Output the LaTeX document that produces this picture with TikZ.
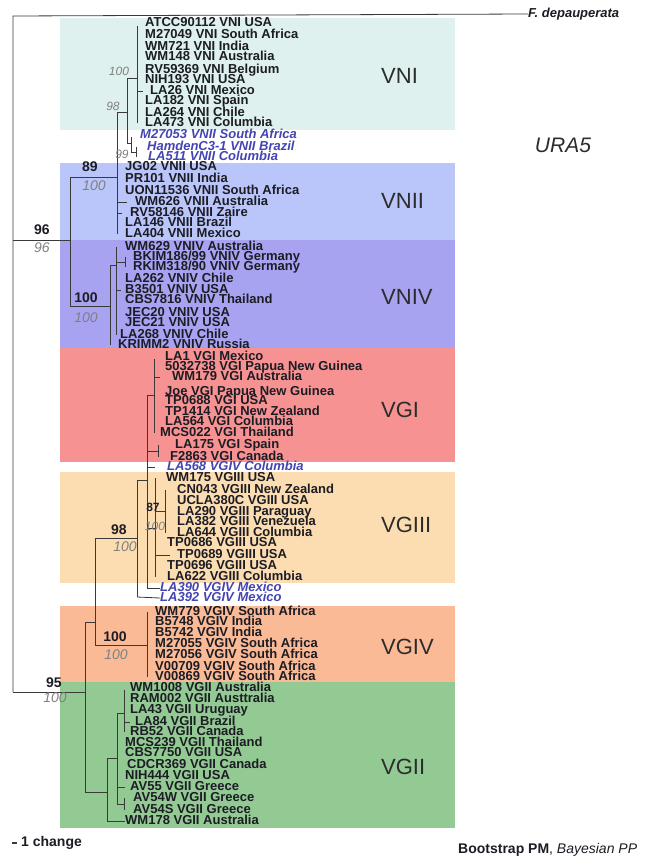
\documentclass[tikz,border=0pt]{standalone}
\usepackage{fontspec}
\setmainfont{Liberation Sans}
\definecolor{bandvni}{HTML}{DFF1EE}
\definecolor{bandvnii}{HTML}{BAC5F9}
\definecolor{bandvniv}{HTML}{A7A3F1}
\definecolor{bandvgi}{HTML}{F69292}
\definecolor{bandvgiii}{HTML}{FCDDB1}
\definecolor{bandvgiv}{HTML}{FBBA96}
\definecolor{bandvgii}{HTML}{93C993}
\definecolor{leafc}{HTML}{1C1C24}
\definecolor{oddc}{HTML}{4444B2}
\definecolor{ppc}{HTML}{808080}
\definecolor{branchc}{HTML}{3A3A3A}
\definecolor{cladec}{HTML}{2C2C2C}
\begin{document}
\begin{tikzpicture}[x=1pt,y=-1pt,
    br/.style={draw=branchc,line width=0.8pt},
    leaf/.style={anchor=west,inner sep=0pt,text=leafc,font=\fontsize{13}{13}\selectfont\bfseries,text height=9pt,text depth=2.5pt},
    oddleaf/.style={leaf,text=oddc,font=\fontsize{13}{13}\selectfont\bfseries\itshape},
    bs/.style={inner sep=0pt,text=leafc,font=\fontsize{14}{14}\selectfont\bfseries},
    pp/.style={inner sep=0pt,text=ppc,font=\fontsize{14}{14}\selectfont\itshape},
    ppsmall/.style={inner sep=0pt,text=ppc,font=\fontsize{12}{12}\selectfont\itshape},
    bssmall/.style={inner sep=0pt,text=leafc,font=\fontsize{12}{12}\selectfont\bfseries},
    clade/.style={anchor=west,inner sep=0pt,text=cladec,font=\fontsize{22}{22}\selectfont}]
    \useasboundingbox (0,0) rectangle (658,862);
    \fill[white] (0,0) rectangle (658,862);
    % clade bands
    \fill[bandvni] (60,18) rectangle (455,130);
    \fill[bandvnii] (60,163) rectangle (455,240);
    \fill[bandvniv] (60,240) rectangle (455,348);
    \fill[bandvgi] (60,348) rectangle (455,462);
    \fill[bandvgiii] (60,472) rectangle (455,583);
    \fill[bandvgiv] (60,606) rectangle (455,682);
    \fill[bandvgii] (60,682) rectangle (455,828);
    \node[clade] (cvni) at (381,76) {VNI};
    \node[clade] (cvnii) at (381,201) {VNII};
    \node[clade] (cvniv) at (381,297) {VNIV};
    \node[clade] (cvgi) at (381,410) {VGI};
    \node[clade] (cvgiii) at (381,525) {VGIII};
    \node[clade] (cvgiv) at (381,647) {VGIV};
    \node[clade] (cvgii) at (381,767) {VGII};
    \node[inner sep=0pt,text=cladec,font=\fontsize{21}{21}\selectfont\itshape] (gene) at (563,145) {URA5};
    % outgroup and root
    \node[anchor=west,inner sep=0pt,text=leafc,font=\fontsize{13}{13}\selectfont\bfseries\itshape] (fdep) at (528,14) {F. depauperata};
    \draw[br] (13,692) -- (13,16) -- (fdep.west);
    % VN clade
    \draw[br] (13,240) -- (70,240);
    \draw[br] (70,177) -- (70,306);
    \draw[br] (70,177) -- (117,177);
    \draw[br] (117,112) -- (117,234);
    \draw[br] (117,112) -- (127,112);
    \draw[br] (127,78) -- (127,143);
    \draw[br] (127,78) -- (137,78);
    \draw[br] (137,26) -- (137,123);
    \node[leaf] (vni1) at (145,23) {ATCC90112 VNI USA};
    \node[leaf] (vni2) at (145,35) {M27049 VNI South Africa};
    \node[leaf] (vni3) at (145,47) {WM721 VNI India};
    \node[leaf] (vni4) at (145,57) {WM148 VNI Australia};
    \node[leaf] (vni5) at (145,70) {RV59369 VNI Belgium};
    \node[leaf] (vni6) at (145,80) {NIH193 VNI USA};
    \node[leaf] (vni7) at (150,91) {LA26 VNI Mexico};
    \node[leaf] (vni8) at (145,101) {LA182 VNI Spain};
    \node[leaf] (vni9) at (145,113) {LA264 VNI Chile};
    \node[leaf] (vni10) at (145,123) {LA473 VNI Columbia};
    \draw[br] (137,91) -- (143,91);
    \node[oddleaf] (vnx1) at (140,135) {M27053 VNII South Africa};
    \node[oddleaf] (vnx2) at (147,147) {HamdenC3-1 VNII Brazil};
    \node[oddleaf] (vnx3) at (148,157) {LA511 VNII Columbia};
    \draw[br] (127,143) -- (131,143);
    \draw[br] (131,137) -- (131,152);
    \draw[br] (131,152) -- (136,152);
    \draw[br] (136,147) -- (136,157);
    \node[ppsmall] (pvni) at (119,71) {100};
    \node[ppsmall] (pvn1) at (113,106) {98};
    \node[ppsmall] (pvn2) at (122,154) {99};
    \node[leaf] (vnii1) at (125,167) {JG02 VNII USA};
    \node[leaf] (vnii2) at (125,179) {PR101 VNII India};
    \node[leaf] (vnii3) at (125,191) {UON11536 VNII South Africa};
    \node[leaf] (vnii4) at (135,202) {WM626 VNII Australia};
    \node[leaf] (vnii5) at (130,213) {RV58146 VNII Zaire};
    \node[leaf] (vnii6) at (125,223) {LA146 VNII Brazil};
    \node[leaf] (vnii7) at (125,234) {LA404 VNII Mexico};
    \draw[br] (117,202) -- (127,202);
    \draw[br] (117,213) -- (122,213);
    \node[bs] (bvnii) at (90,167) {89};
    \node[pp] (pvnii) at (94,186) {100};
    \node[bs] (bvn) at (42,230) {96};
    \node[pp] (pvn) at (42,248) {96};
    \draw[br] (70,306) -- (110,306);
    \draw[br] (110,265) -- (110,345);
    \draw[br] (110,265) -- (116,265);
    \draw[br] (116,247) -- (116,335);
    \draw[br] (116,262) -- (125,262);
    \draw[br] (125,257) -- (125,267);
    \draw[br] (116,290) -- (121,290);
    \node[leaf] (vniv1) at (125,247) {WM629 VNIV Australia};
    \node[leaf] (vniv2) at (133,257) {BKIM186/99 VNIV Germany};
    \node[leaf] (vniv3) at (133,267) {RKIM318/90 VNIV Germany};
    \node[leaf] (vniv4) at (125,279) {LA262 VNIV Chile};
    \node[leaf] (vniv5) at (125,290) {B3501 VNIV USA};
    \node[leaf] (vniv6) at (125,300) {CBS7816 VNIV Thailand};
    \node[leaf] (vniv7) at (125,313) {JEC20 VNIV USA};
    \node[leaf] (vniv8) at (125,323) {JEC21 VNIV USA};
    \node[leaf] (vniv9) at (120,335) {LA268 VNIV Chile};
    \node[leaf] (vniv10) at (118,345) {KRIMM2 VNIV Russia};
    \node[bs] (bvniv) at (86,298) {100};
    \node[pp] (pvniv) at (86,318) {100};
    % VG clade
    \draw[br] (13,692) -- (85,692);
    \draw[br] (85,622) -- (85,792);
    \draw[br] (85,622) -- (95,622);
    \draw[br] (95,538) -- (95,645);
    \draw[br] (95,538) -- (137,538);
    \draw[br] (137,480) -- (137,597);
    \draw[br] (137,480) -- (147,480);
    \draw[br] (147,395) -- (147,588);
    \draw[br] (147,395) -- (154,395);
    \draw[br] (154,359) -- (154,433);
    \node[leaf] (vgi1) at (165,357) {LA1 VGI Mexico};
    \node[leaf] (vgi2) at (165,367) {5032738 VGI Papua New Guinea};
    \node[leaf] (vgi3) at (172,377) {WM179 VGI Australia};
    \node[leaf] (vgi4) at (165,392) {Joe VGI Papua New Guinea};
    \node[leaf] (vgi5) at (165,401) {TP0688 VGI USA};
    \node[leaf] (vgi6) at (165,412) {TP1414 VGI New Zealand};
    \node[leaf] (vgi7) at (165,422) {LA564 VGI Columbia};
    \node[leaf] (vgi8) at (160,433) {MCS022 VGI Thailand};
    \node[leaf] (vgi9) at (175,445) {LA175 VGI Spain};
    \node[leaf] (vgi10) at (170,457) {F2863 VGI Canada};
    \node[oddleaf] (vgi11) at (167,467) {LA568 VGIV Columbia};
    \draw[br] (154,377) -- (160,377);
    \draw[br] (147,451) -- (158,451);
    \draw[br] (158,445) -- (158,457);
    \draw[br] (147,467) -- (155,467);
    \draw[br] (147,528) -- (155,528);
    \draw[br] (155,478) -- (155,577);
    \draw[br] (155,511) -- (165,511);
    \draw[br] (165,490) -- (165,533);
    \draw[br] (155,555) -- (170,555);
    \node[leaf] (vgiii1) at (166,478) {WM175 VGIII USA};
    \node[leaf] (vgiii2) at (177,490) {CN043 VGIII New Zealand};
    \node[leaf] (vgiii3) at (177,501) {UCLA380C VGIII USA};
    \node[leaf] (vgiii4) at (177,512) {LA290 VGIII Paraguay};
    \node[leaf] (vgiii5) at (177,522) {LA382 VGIII Venezuela};
    \node[leaf] (vgiii6) at (177,533) {LA644 VGIII Columbia};
    \node[leaf] (vgiii7) at (167,543) {TP0686 VGIII USA};
    \node[leaf] (vgiii8) at (177,555) {TP0689 VGIII USA};
    \node[leaf] (vgiii9) at (167,566) {TP0696 VGIII USA};
    \node[leaf] (vgiii10) at (167,577) {LA622 VGIII Columbia};
    \node[oddleaf] (vgiii11) at (160,588) {LA390 VGIV Mexico};
    \node[oddleaf] (vgiii12) at (160,598) {LA392 VGIV Mexico};
    \draw[br] (147,588) -- (vgiii11.west);
    \draw[br] (137,597) -- (vgiii12.west);
    \node[bssmall] (bvgiii) at (153,507) {87};
    \node[ppsmall] (pvgiii) at (155,526) {100};
    \node[bs] (bvg) at (119,530) {98};
    \node[pp] (pvg) at (125,547) {100};
    \draw[br] (95,645) -- (147,645);
    \draw[br] (147,612) -- (147,677);
    \node[leaf] (vgiv1) at (155,612) {WM779 VGIV South Africa};
    \node[leaf] (vgiv2) at (155,622) {B5748 VGIV India};
    \node[leaf] (vgiv3) at (155,633) {B5742 VGIV India};
    \node[leaf] (vgiv4) at (155,644) {M27055 VGIV South Africa};
    \node[leaf] (vgiv5) at (155,655) {M27056 VGIV South Africa};
    \node[leaf] (vgiv6) at (155,667) {V00709 VGIV South Africa};
    \node[leaf] (vgiv7) at (155,677) {V00869 VGIV South Africa};
    \node[bs] (bvgiv) at (115,637) {100};
    \node[pp] (pvgiv) at (116,655) {100};
    \node[bs] (broot) at (54,683) {95};
    \node[pp] (proot) at (55,698) {100};
    \draw[br] (85,792) -- (107,792);
    \draw[br] (107,758) -- (107,821);
    \draw[br] (107,758) -- (117,758);
    \draw[br] (117,713) -- (117,804);
    \draw[br] (117,713) -- (124,713);
    \draw[br] (124,690) -- (124,732);
    \draw[br] (124,722) -- (130,722);
    \draw[br] (117,787) -- (125,787);
    \draw[br] (117,804) -- (124,804);
    \draw[br] (124,798) -- (124,810);
    \node[leaf] (vgii1) at (130,688) {WM1008 VGII Australia};
    \node[leaf] (vgii2) at (130,699) {RAM002 VGII Austtralia};
    \node[leaf] (vgii3) at (130,710) {LA43 VGII Uruguay};
    \node[leaf] (vgii4) at (135,722) {LA84 VGII Brazil};
    \node[leaf] (vgii5) at (130,732) {RB52 VGII Canada};
    \node[leaf] (vgii6) at (125,743) {MCS239 VGII Thailand};
    \node[leaf] (vgii7) at (125,753) {CBS7750 VGII USA};
    \node[leaf] (vgii8) at (127,765) {CDCR369 VGII Canada};
    \node[leaf] (vgii9) at (125,776) {NIH444 VGII USA};
    \node[leaf] (vgii10) at (130,787) {AV55 VGII Greece};
    \node[leaf] (vgii11) at (133,798) {AV54W VGII Greece};
    \node[leaf] (vgii12) at (133,810) {AV54S VGII Greece};
    \node[leaf] (vgii13) at (125,821) {WM178 VGII Australia};
    \draw[br] (107,821) -- (vgii13.west);
    % scale and legend
    \node[anchor=west,inner sep=0pt,text=leafc,font=\fontsize{14}{14}\selectfont\bfseries] (scale) at (21,843) {1 change};
    \draw[br,line width=1.2pt] (12,843) -- (17,843);
    \node[anchor=west,inner sep=0pt,text=leafc,font=\fontsize{14}{14}\selectfont] (legend) at (458,850) {\textbf{Bootstrap PM}, \textit{Bayesian PP}};
\end{tikzpicture}
\end{document}
